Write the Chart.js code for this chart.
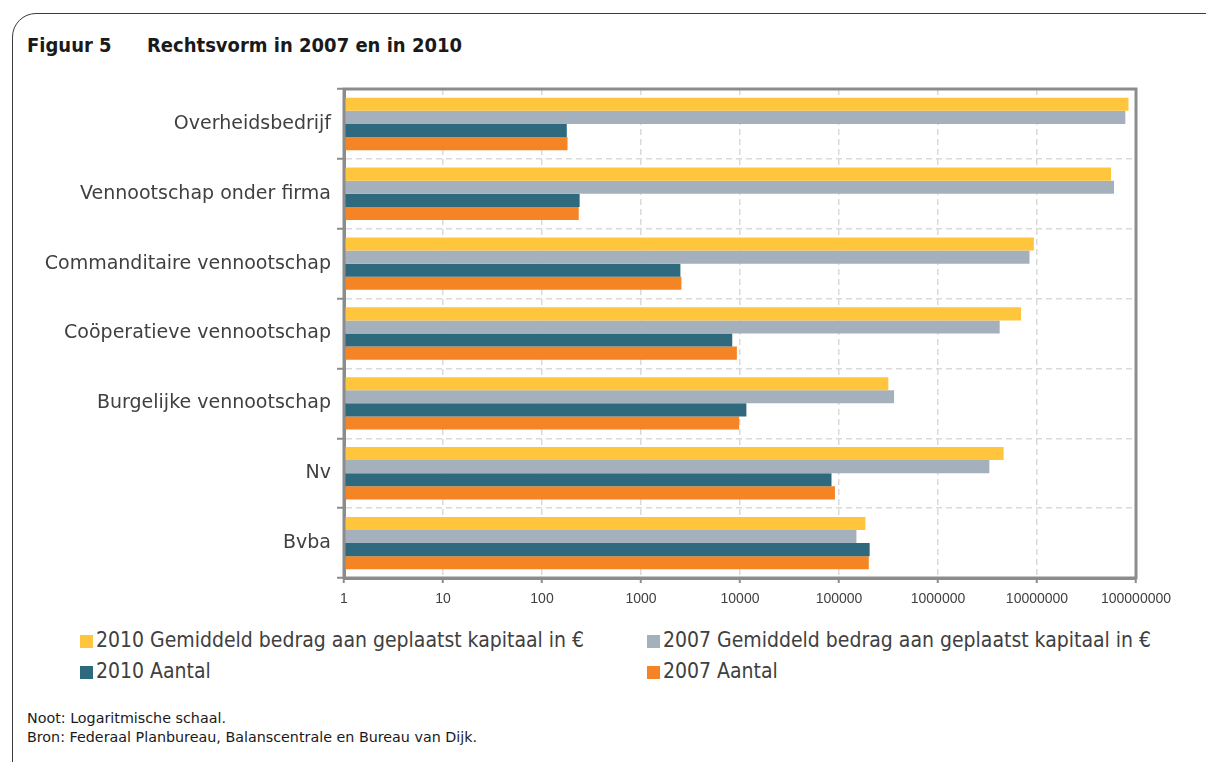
<!DOCTYPE html>
<html lang="nl">
<head>
<meta charset="utf-8">
<title>Figuur 5 - Rechtsvorm in 2007 en in 2010</title>
<script src="https://cdn.jsdelivr.net/npm/chart.js@4/dist/chart.umd.min.js"></script>
<style>
    body { margin: 0; width: 1206px; height: 762px; overflow: hidden; background: #fff; position: relative; font-family: "DejaVu Sans", sans-serif; color: #404040; }
    .frame { position: absolute; left: 12px; top: 13px; width: 1300px; height: 800px; border: 1.5px solid #3c3c3c; border-radius: 24px; box-sizing: border-box; }
    .title { position: absolute; top: 34px; font-family: "DejaVu Sans Condensed", "DejaVu Sans", sans-serif; font-weight: bold; font-size: 20px; line-height: 22px; color: #1a1a1a; white-space: nowrap; }
    #chartBox { position: absolute; left: 0; top: 0; width: 1206px; height: 612px; }
    .legend-item { position: absolute; height: 24px; line-height: 24px; font-family: "DejaVu Sans Condensed", "DejaVu Sans", sans-serif; font-size: 21px; color: #404040; white-space: nowrap; }
    .legend-item span.box { display: inline-block; width: 13px; height: 13px; margin-right: 3px; vertical-align: -1px; }
    .note { position: absolute; left: 27px; font-size: 14.3px; line-height: 16px; color: #1a1a1a; white-space: nowrap; }
</style>
</head>
<body>
<div class="frame"></div>
<div class="title" style="left:27px">Figuur 5</div>
<div class="title" style="left:147px">Rechtsvorm in 2007 en in 2010</div>
<div id="chartBox"><canvas id="rechtsvormChart" width="1206" height="612"></canvas></div>
<div id="legend"></div>
<div class="note" style="top:710px">Noot: Logaritmische schaal.</div>
<div class="note" style="top:729px">Bron: Federaal Planbureau, Balanscentrale en Bureau van Dijk.</div>

<script>
// ==== DATA ====
const categories = ['Overheidsbedrijf', 'Vennootschap onder firma', 'Commanditaire vennootschap', 'Coöperatieve vennootschap', 'Burgelijke vennootschap', 'Nv', 'Bvba'];
const kapitaal2010 = [84000000, 56000000, 9300000, 6900000, 315000, 4600000, 185000];
const kapitaal2007 = [78000000, 60000000, 8400000, 4200000, 360000, 3300000, 150000];
const aantal2010 = [178, 240, 2500, 8350, 11600, 84000, 204000];
const aantal2007 = [181, 235, 2560, 9300, 9800, 91000, 200000];
const tickValues = [1, 10, 100, 1000, 10000, 100000, 1000000, 10000000, 100000000];
const tickLabels = ['1', '10', '100', '1000', '10000', '100000', '1000000', '10000000', '100000000'];

const datasets = [
    { label: '2010 Gemiddeld bedrag aan geplaatst kapitaal in €', data: kapitaal2010, backgroundColor: '#ffc63d' },
    { label: '2007 Gemiddeld bedrag aan geplaatst kapitaal in €', data: kapitaal2007, backgroundColor: '#a5b0bd' },
    { label: '2010 Aantal', data: aantal2010, backgroundColor: '#2e697e' },
    { label: '2007 Aantal', data: aantal2007, backgroundColor: '#f58524' }
];

// ==== KADER ROND PLOTGEBIED ====
const plotFrame = {
    id: 'plotFrame',
    afterDraw(chart) {
        const { ctx, chartArea: a } = chart;
        ctx.save();
        ctx.strokeStyle = '#8c8c8c';
        ctx.lineWidth = 3;
        ctx.strokeRect(a.left, a.top, a.right - a.left, a.bottom - a.top);
        ctx.restore();
    }
};

// ==== GRAFIEK ====
new Chart(document.getElementById('rechtsvormChart'), {
    type: 'bar',
    data: { labels: categories, datasets: datasets },
    options: {
        indexAxis: 'y',
        responsive: false,
        animation: false,
        layout: { padding: { top: 89, right: 70, left: 0, bottom: 0 } },
        datasets: { bar: { categoryPercentage: 0.75, barPercentage: 1 } },
        plugins: { legend: { display: false }, tooltip: { enabled: false } },
        scales: {
            x: {
                type: 'logarithmic',
                min: 1,
                max: 100000000,
                afterBuildTicks: (scale) => { scale.ticks = tickValues.map(v => ({ value: v })); },
                afterFit: (scale) => { scale.height = 34; },
                ticks: {
                    autoSkip: false,
                    maxRotation: 0,
                    padding: 8,
                    color: '#404040',
                    font: { family: 'Liberation Sans', size: 14 },
                    callback: (value, i) => tickLabels[i]
                },
                grid: { color: '#dadada', lineWidth: 1.5, tickLength: 5, tickColor: '#8c8c8c', tickWidth: 2, tickBorderDash: [] },
                border: { color: '#8c8c8c', width: 3, dash: [6, 4] }
            },
            y: {
                afterFit: (scale) => { scale.width = 344; },
                ticks: {
                    padding: 6,
                    color: '#404040',
                    font: { family: 'DejaVu Sans', size: 19 }
                },
                grid: { offset: true, color: '#dadada', lineWidth: 1.5, tickLength: 7, tickColor: '#8c8c8c', tickWidth: 2, tickBorderDash: [] },
                border: { color: '#8c8c8c', width: 3, dash: [6, 4] }
            }
        }
    },
    plugins: [plotFrame]
});

// ==== LEGENDA (twee kolommen) ====
const legendCols = [80, 647];
const legendRows = [628, 659];
const legendBox = document.getElementById('legend');
datasets.forEach((ds, i) => {
    const item = document.createElement('div');
    item.className = 'legend-item';
    item.style.left = legendCols[i % 2] + 'px';
    item.style.top = legendRows[Math.floor(i / 2)] + 'px';
    item.innerHTML = '<span class="box" style="background:' + ds.backgroundColor + '"></span>' + ds.label;
    legendBox.appendChild(item);
});
</script>
</body>
</html>
